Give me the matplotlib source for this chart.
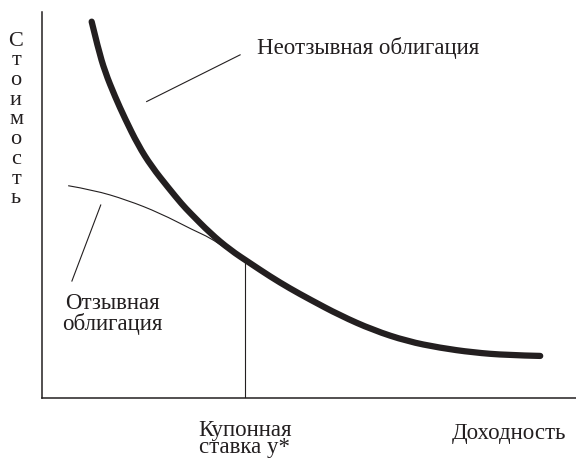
import matplotlib.pyplot as plt
from matplotlib.path import Path
from matplotlib.patches import PathPatch

plt.rcParams['font.family'] = ['Liberation Serif', 'DejaVu Serif']

# Неотзывная облигация (значения в условных единицах)
yield_straight = [0.93, 1.05, 1.18, 1.37, 1.55, 1.80, 2.05, 2.37, 2.62, 2.77,
                  3.15, 3.52, 3.90, 4.27, 4.64, 5.02, 5.58, 6.20, 6.84, 7.45,
                  8.07, 8.71, 9.33]
value_straight = [9.75, 9.06, 8.45, 7.80, 7.25, 6.55, 6.00, 5.44, 5.02, 4.80,
                  4.27, 3.84, 3.49, 3.15, 2.84, 2.55, 2.14, 1.76, 1.47, 1.30,
                  1.18, 1.11, 1.09]

# Отзывная облигация
yield_callable = [0.49, 0.96, 1.59, 2.21, 2.83, 3.15, 3.43, 3.52]
value_callable = [5.50, 5.39, 5.13, 4.79, 4.35, 4.15, 3.88, 3.81]

y_star = 3.80
value_at_star = 3.58
ink = '#231f20'


def smooth_path(xs, ys):
    # quadratic bezier through midpoints, points used as control points
    pts = list(zip(xs, ys))
    verts = [pts[0]]
    codes = [Path.MOVETO]
    for i in range(1, len(pts) - 1):
        if i < len(pts) - 2:
            end = ((pts[i][0] + pts[i + 1][0]) / 2, (pts[i][1] + pts[i + 1][1]) / 2)
        else:
            end = pts[i + 1]
        verts += [pts[i], end]
        codes += [Path.CURVE3, Path.CURVE3]
    return Path(verts, codes)


fig = plt.figure(figsize=(5.76, 4.59), dpi=100)
ax = fig.add_axes([42 / 576, 61 / 459, 534 / 576, 386 / 459])
ax.set_xlim(0, 10)
ax.set_ylim(0, 10)

ax.add_patch(PathPatch(smooth_path(yield_straight, value_straight), fill=False,
                       edgecolor=ink, lw=4.5, capstyle='round', joinstyle='round'))
ax.add_patch(PathPatch(smooth_path(yield_callable, value_callable), fill=False,
                       edgecolor=ink, lw=0.8))
ax.plot([y_star, y_star], [0, value_at_star], color=ink, lw=0.8)

# выноски
ax.plot([1.96, 3.71], [7.68, 8.89], color=ink, lw=0.8)
ax.plot([1.10, 0.56], [5.00, 3.03], color=ink, lw=0.8)

ax.text(4.03, 9.07, 'Неотзывная облигация', fontsize=16.5, color=ink,
        ha='left', va='center')
ax.text(1.31, 2.18, 'Отзывная\nоблигация', fontsize=16.5, color=ink,
        ha='center', va='center', linespacing=0.95)

for s in ['top', 'right']:
    ax.spines[s].set_visible(False)
for s in ['left', 'bottom']:
    ax.spines[s].set_linewidth(1.1)
    ax.spines[s].set_color(ink)

ax.set_xticks([])
ax.set_yticks([])

ax.text(y_star, -1.06, 'Купонная\nставка y*', fontsize=16.5, color=ink,
        ha='center', va='center', linespacing=0.8)
ax.text(8.75, -0.91, 'Доходность', fontsize=16.5, color=ink,
        ha='center', va='center')

fig.text(16 / 576, 1 - 120 / 459, '\n'.join('Стоимость'), fontsize=16,
         color=ink, ha='center', va='center', linespacing=1.05)

fig.savefig('out.png', dpi=100)
